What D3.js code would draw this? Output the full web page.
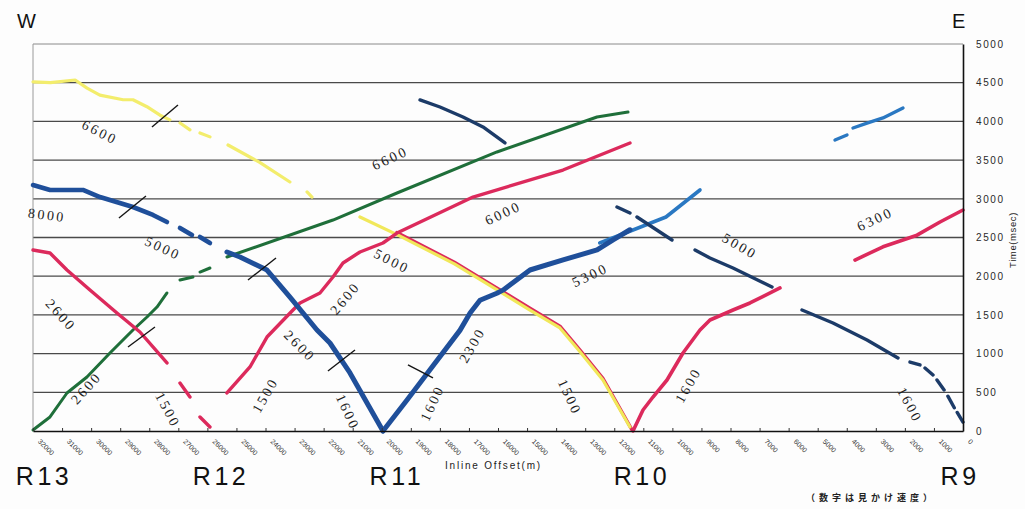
<!DOCTYPE html>
<html>
<head>
<meta charset="utf-8">
<script src="https://cdn.jsdelivr.net/npm/d3@7"></script>
<style>
  html, body { margin: 0; padding: 0; background: #fdfdfd; }
  svg { display: block; }
</style>
</head>
<body>
<svg id="chart" width="1025" height="509"></svg>
<script>
// ---- Axis ticks ----
const offsetTicks = [32000, 31000, 30000, 29000, 28000, 27000, 26000, 25000, 24000, 23000, 22000,
  21000, 20000, 19000, 18000, 17000, 16000, 15000, 14000, 13000, 12000, 11000, 10000,
  9000, 8000, 7000, 6000, 5000, 4000, 3000, 2000, 1000, 0];
const timeTicks = [0, 500, 1000, 1500, 2000, 2500, 3000, 3500, 4000, 4500, 5000];

// ---- Travel-time picks: [inline offset (m), time (msec)], null = gap in the pick ----
const yellowWest = [[32000, 4510], [31400, 4500], [30550, 4535], [30140, 4430], [29700, 4340],
  [28900, 4280], [28560, 4280], [28080, 4190], [27630, 4080], [27290, 4020], null,
  [26940, 3980], [26600, 3890], null, [26255, 3850], [25910, 3800], null,
  [25290, 3695], [24200, 3470], [23160, 3217], null, [22570, 3088], [22400, 3023]];
const yellowEast = [[20750, 2765], [19440, 2530], [17500, 2160], [16030, 1822], [14900, 1563],
  [13870, 1331], [13200, 1034], [12390, 659], [11460, 52]];
const pinkR10West = [[19480, 2565], [17500, 2180], [16030, 1845], [14900, 1585], [13870, 1355],
  [13200, 1055], [12390, 680], [11400, 20]];
const pinkWest = [[32000, 2339], [31415, 2300], [30831, 2080], [30040, 1822], [29111, 1525],
  [28320, 1279], [27390, 879], null, [26943, 620], [26599, 439], null, [26255, 181], [25911, 52]];
const pinkR12 = [[25326, 491], [24534, 827], [23949, 1214], [23054, 1563], [22813, 1654],
  [22126, 1783], [21678, 1990], [21334, 2171], [20749, 2313], [19958, 2429], [19476, 2558],
  [16861, 3023], [13764, 3372], [11459, 3721]];
const pinkR10East = [[11355, 0], [11011, 271], [10667, 439], [10185, 659], [9635, 1008],
  [9050, 1305], [8706, 1434], [7914, 1563], [7329, 1654], [6297, 1848]];
const pinkEast = [[3716, 2209], [2753, 2380], [1583, 2530], [791, 2700], [0, 2855]];
const greenWest = [[32000, 13], [31415, 181], [30831, 491], [30143, 698], [29352, 1008],
  [28560, 1305], [28078, 1473], [27734, 1602], [27390, 1783], null,
  [26943, 1951], [26496, 1990], null, [26255, 2054], [25911, 2106]];
const greenMain = [[25326, 2248], [21678, 2726], [19476, 3075], [16035, 3605], [12594, 4057],
  [11527, 4121]];
const blueWest = [[32000, 3178], [31415, 3114], [30281, 3114], [29696, 3023], [28560, 2894],
  [27872, 2791], [27390, 2700], null, [26943, 2623], [26530, 2532], null, [26255, 2506], [25911, 2429]];
const blueR11West = [[25326, 2313], [24878, 2248], [23949, 2080], [23158, 1731], [22229, 1305],
  [21782, 1137], [21093, 750], [19958, 0]];
const blueR11East = [[19958, 0], [19130, 400], [18340, 790], [17310, 1300], [16960, 1525],
  [16620, 1690], [16040, 1780], [15830, 1820], [14900, 2080], [13760, 2210], [12590, 2340],
  [12040, 2470], [11460, 2600]];
const lightBlueMid = [[12500, 2430], [11355, 2597], [10220, 2765], [9050, 3114]];
const lightBlueEast = [[4404, 3760], [3992, 3824], null, [3785, 3915], [3303, 3979], [2753, 4044],
  [2065, 4173]];
const navyUpper = [[18685, 4277], [17997, 4186], [17205, 4057], [16517, 3928], [15760, 3721]];
const navyEast = [[11906, 2894], [11459, 2816], null, [11218, 2765], [10013, 2468], null,
  [9222, 2339], [8706, 2235], [7914, 2106], [6572, 1860], null,
  [5540, 1563], [4473, 1395], [3303, 1176], [2237, 943], null,
  [1824, 891], [1480, 853], null, [1308, 814], [1032, 724], null,
  [895, 659], [650, 530], null, [520, 450], [300, 300], null, [200, 240], [0, 116]];

// ---- Crossover marks: two ends [offset, time] ----
const crossMarks = [
  [[27906, 3928], [27012, 4212]],
  [[29042, 2752], [28113, 3036]],
  [[28732, 1085], [27803, 1344]],
  [[24603, 1951], [23639, 2235]],
  [[21851, 775], [20921, 1047]],
  [[19098, 853], [18237, 685]]
];

// ---- Apparent velocity labels (m/s) ----
const velocityText = ["6600", "8000", "5000", "2600", "2600", "1500", "1500", "2600", "2600",
  "1600", "1600", "6600", "5000", "6000", "2300", "5300", "1500", "1600", "5000", "6300", "1600"];
const velocityAt = [[29696, 3863], [31518, 2791], [27528, 2364], [31036, 1499], [30177, 556],
  [27356, 271], [24018, 465], [22813, 1098], [21265, 1718], [21162, 245], [18272, 362],
  [19717, 3527], [19648, 2196], [15829, 2817], [16895, 1111], [12835, 2016], [13523, 439],
  [9463, 594], [7673, 2390], [3028, 2739], [1824, 336]];
const velocityAngle = [27, 7, 25, 48, -48, 62, -60, 45, -50, 65, -65, -25, 27, -25, -60, -25, 65,
  -60, 30, -25, 62];

// ---- Receiver stations ----
const stationNames = ["R13", "R12", "R11", "R10", "R9"];
const stationOffsets = [31620, 25530, 19480, 11050, 100];

// ---- Layout ----
const svg = d3.select("#chart");
const W = 1025, H = 509;
const box = { left: 33, right: 963, top: 44, bottom: 431 };

const x = d3.scaleLinear().domain([32000, 0]).range([box.left, box.right]);
const y = d3.scaleLinear().domain([0, 5000]).range([box.bottom, box.top]);

svg.append("rect").attr("width", W).attr("height", H).attr("fill", "#fdfdfd");

// horizontal grid
svg.append("g")
  .selectAll("line")
  .data(timeTicks.filter(t => t > 0 && t < 5000))
  .join("line")
  .attr("x1", box.left).attr("x2", box.right)
  .attr("y1", d => y(d)).attr("y2", d => y(d))
  .attr("stroke", "#4a4a4a").attr("stroke-width", 1.3);

// top and left frame
svg.append("line").attr("x1", box.left).attr("x2", box.right)
  .attr("y1", y(5000)).attr("y2", y(5000)).attr("stroke", "#8a8a8a").attr("stroke-width", 1);
svg.append("line").attr("x1", box.left).attr("x2", box.left)
  .attr("y1", y(5000)).attr("y2", y(0)).attr("stroke", "#9a9a9a").attr("stroke-width", 1);

// ---- Picks ----
const line = d3.line()
  .defined(d => d !== null)
  .x(d => x(d[0]))
  .y(d => y(d[1]));

const traces = [
  { data: pinkR10West, color: "#dc2a5c", width: 3.4 },
  { data: yellowWest, color: "#f3ed6c", width: 3.2 },
  { data: yellowEast, color: "#f1e85a", width: 3.2 },
  { data: greenWest, color: "#1f6f3a", width: 3 },
  { data: greenMain, color: "#1f6f3a", width: 3 },
  { data: pinkWest, color: "#dc2a5c", width: 3.4 },
  { data: pinkR12, color: "#dc2a5c", width: 3.4 },
  { data: pinkR10East, color: "#dc2a5c", width: 3.6 },
  { data: pinkEast, color: "#dc2a5c", width: 3.6 },
  { data: lightBlueMid, color: "#2a78c2", width: 3.6 },
  { data: lightBlueEast, color: "#2a78c2", width: 3.4 },
  { data: blueWest, color: "#1f4f9a", width: 4.6 },
  { data: blueR11West, color: "#1f4f9a", width: 5 },
  { data: blueR11East, color: "#1f4f9a", width: 5 },
  { data: navyUpper, color: "#1c3b68", width: 3.4 },
  { data: navyEast, color: "#1c3b68", width: 3.4 }
];

svg.append("g")
  .selectAll("path")
  .data(traces)
  .join("path")
  .attr("d", d => line(d.data))
  .attr("fill", "none")
  .attr("stroke", d => d.color)
  .attr("stroke-width", d => d.width)
  .attr("stroke-linecap", "round")
  .attr("stroke-linejoin", "round");

// crossover marks
svg.append("g")
  .selectAll("line")
  .data(crossMarks)
  .join("line")
  .attr("x1", d => x(d[0][0])).attr("y1", d => y(d[0][1]))
  .attr("x2", d => x(d[1][0])).attr("y2", d => y(d[1][1]))
  .attr("stroke", "#151515").attr("stroke-width", 1.4);

// velocity labels
svg.append("g")
  .selectAll("text")
  .data(velocityText)
  .join("text")
  .attr("transform", (d, i) =>
    `translate(${x(velocityAt[i][0])},${y(velocityAt[i][1])}) rotate(${velocityAngle[i]})`)
  .attr("text-anchor", "middle")
  .attr("dy", "0.35em")
  .attr("font-family", "'Liberation Serif', 'DejaVu Serif', serif")
  .attr("font-size", 14)
  .attr("letter-spacing", "2.5px")
  .attr("fill", "#1e1e1e")
  .text(d => d);

// ---- Axes ----
const xAxis = svg.append("g")
  .attr("transform", `translate(0,${box.bottom})`)
  .call(d3.axisBottom(x).tickValues(offsetTicks).tickSizeInner(-3).tickSizeOuter(0).tickFormat(d3.format("d")));
xAxis.select(".domain").attr("stroke", "#111").attr("stroke-width", 1.6);
xAxis.selectAll(".tick line").attr("stroke", "#333");
xAxis.selectAll(".tick text")
  .attr("x", 0).attr("y", 0).attr("dy", 0)
  .attr("text-anchor", "start")
  .attr("transform", "translate(4,11) rotate(45)")
  .attr("font-family", "'Liberation Sans', Arial, sans-serif")
  .attr("font-size", 7)
  .attr("fill", "#333");

const yAxis = svg.append("g")
  .attr("transform", `translate(${box.right},0)`)
  .call(d3.axisRight(y).tickValues(timeTicks).tickSize(0).tickPadding(13).tickFormat(d3.format("d")));
yAxis.select(".domain").attr("stroke", "#111").attr("stroke-width", 1.6);
yAxis.selectAll(".tick text")
  .attr("font-family", "'Liberation Sans', Arial, sans-serif")
  .attr("font-size", 10)
  .attr("letter-spacing", "1.6px")
  .attr("fill", "#2a2a2a");

// ---- Titles and captions ----
const sans = "'Liberation Sans', Arial, sans-serif";

svg.append("text").attr("x", 17).attr("y", 28).attr("font-family", sans)
  .attr("font-size", 20).attr("fill", "#111").text("W");
svg.append("text").attr("x", 952).attr("y", 28).attr("font-family", sans)
  .attr("font-size", 20).attr("fill", "#111").text("E");

svg.append("g")
  .selectAll("text")
  .data(stationNames)
  .join("text")
  .attr("x", (d, i) => x(stationOffsets[i]))
  .attr("y", 485)
  .attr("text-anchor", "middle")
  .attr("font-family", sans)
  .attr("font-size", 25)
  .attr("letter-spacing", "3.5px")
  .attr("fill", "#111")
  .text(d => d);

svg.append("text").attr("x", 445).attr("y", 469).attr("font-family", sans)
  .attr("font-size", 10).attr("letter-spacing", "1.8px").attr("fill", "#222")
  .text("Inline Offset(m)");

svg.append("text")
  .attr("transform", "translate(1016,240) rotate(-90)")
  .attr("text-anchor", "middle")
  .attr("font-family", sans)
  .attr("font-size", 9.5)
  .attr("letter-spacing", "0.6px")
  .attr("fill", "#222")
  .text("Time(msec)");

svg.append("text").attr("x", 806).attr("y", 501)
  .attr("font-family", "'Noto Sans CJK JP', sans-serif")
  .attr("font-size", 9).attr("font-weight", "bold").attr("letter-spacing", "4px")
  .attr("fill", "#222")
  .text("（数字は見かけ速度）");
</script>
</body>
</html>
